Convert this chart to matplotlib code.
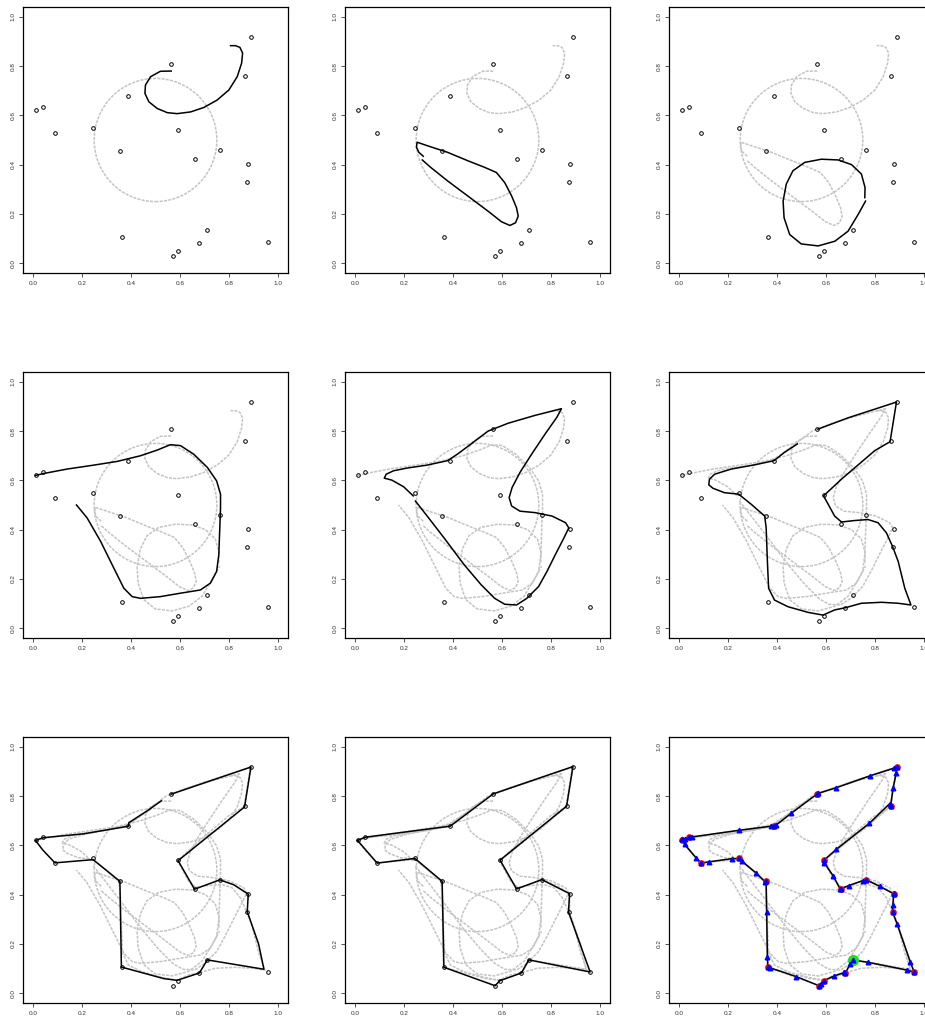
import numpy as np
import matplotlib
matplotlib.use("Agg")
import matplotlib.pyplot as plt
from matplotlib.patches import Circle

plt.rcParams['font.family'] = ['Liberation Sans', 'DejaVu Sans']

# cities
city_x = [0.011, 0.041, 0.091, 0.245, 0.389, 0.356, 0.363, 0.564, 0.592, 0.659,
          0.762, 0.572, 0.590, 0.679, 0.709, 0.889, 0.863, 0.875, 0.871, 0.959]
city_y = [0.620, 0.633, 0.528, 0.547, 0.678, 0.454, 0.105, 0.809, 0.540, 0.423,
          0.461, 0.030, 0.050, 0.082, 0.135, 0.920, 0.759, 0.404, 0.329, 0.086]
tour_order = [0, 1, 4, 7, 15, 16, 8, 9, 10, 17, 18, 19, 14, 13, 12, 11, 6, 5, 3, 2, 0]
start_city = 14

# initial ring
ring_center = (0.5, 0.5)
ring_radius = 0.25

# net shape after each stage
stage1 = [(0.564, 0.780), (0.520, 0.779), (0.480, 0.757), (0.459, 0.723), (0.457, 0.689),
          (0.473, 0.655), (0.507, 0.628), (0.548, 0.611), (0.588, 0.607), (0.643, 0.614),
          (0.697, 0.632), (0.751, 0.662), (0.799, 0.703), (0.833, 0.757), (0.851, 0.812),
          (0.855, 0.853), (0.844, 0.876), (0.826, 0.883), (0.806, 0.883)]
stage2 = [(0.279, 0.434), (0.261, 0.450), (0.251, 0.471), (0.254, 0.491), (0.295, 0.477),
          (0.378, 0.450), (0.460, 0.416), (0.529, 0.389), (0.577, 0.368), (0.611, 0.327),
          (0.639, 0.273), (0.659, 0.225), (0.666, 0.191), (0.655, 0.164), (0.632, 0.153),
          (0.598, 0.168), (0.543, 0.211), (0.460, 0.273), (0.378, 0.334), (0.309, 0.389),
          (0.275, 0.419)]
stage3 = [(0.758, 0.266), (0.759, 0.307), (0.744, 0.362), (0.704, 0.400), (0.649, 0.419),
          (0.581, 0.422), (0.513, 0.409), (0.465, 0.375), (0.438, 0.321), (0.425, 0.252),
          (0.429, 0.184), (0.452, 0.116), (0.499, 0.078), (0.568, 0.070), (0.636, 0.089),
          (0.690, 0.130), (0.731, 0.198), (0.761, 0.252)]
stage4 = [(0.011, 0.620), (0.045, 0.628), (0.140, 0.646), (0.249, 0.662), (0.344, 0.677),
          (0.439, 0.700), (0.507, 0.723), (0.561, 0.745), (0.602, 0.741), (0.656, 0.706),
          (0.711, 0.653), (0.749, 0.598), (0.765, 0.544), (0.765, 0.489), (0.762, 0.407),
          (0.758, 0.298), (0.749, 0.230), (0.724, 0.183), (0.683, 0.155), (0.602, 0.142),
          (0.520, 0.128), (0.439, 0.121), (0.405, 0.128), (0.371, 0.162), (0.330, 0.244),
          (0.276, 0.353), (0.221, 0.448), (0.178, 0.500)]
stage5 = [(0.238, 0.537), (0.199, 0.574), (0.151, 0.601), (0.120, 0.609), (0.128, 0.625),
          (0.158, 0.639), (0.213, 0.650), (0.295, 0.662), (0.378, 0.680), (0.419, 0.707),
          (0.474, 0.748), (0.543, 0.800), (0.625, 0.832), (0.735, 0.864), (0.842, 0.891),
          (0.824, 0.857), (0.776, 0.789), (0.721, 0.707), (0.673, 0.632), (0.641, 0.571),
          (0.629, 0.530), (0.639, 0.496), (0.673, 0.475), (0.735, 0.469), (0.804, 0.455),
          (0.859, 0.428), (0.872, 0.407), (0.852, 0.366), (0.817, 0.298), (0.783, 0.230),
          (0.749, 0.169), (0.701, 0.121), (0.659, 0.094), (0.611, 0.097), (0.570, 0.121),
          (0.515, 0.176), (0.446, 0.257), (0.364, 0.366), (0.295, 0.455), (0.247, 0.516)]
stage6 = [(0.483, 0.748), (0.431, 0.714), (0.388, 0.680), (0.309, 0.663), (0.214, 0.646),
          (0.146, 0.625), (0.125, 0.605), (0.122, 0.582), (0.139, 0.568), (0.186, 0.550),
          (0.244, 0.544), (0.295, 0.503), (0.350, 0.455), (0.356, 0.407), (0.361, 0.271),
          (0.366, 0.162), (0.390, 0.114), (0.445, 0.087), (0.527, 0.064), (0.588, 0.053),
          (0.635, 0.074), (0.679, 0.083), (0.744, 0.101), (0.826, 0.105), (0.894, 0.101),
          (0.946, 0.094), (0.921, 0.162), (0.894, 0.271), (0.871, 0.332), (0.846, 0.387),
          (0.812, 0.428), (0.771, 0.441), (0.717, 0.437), (0.663, 0.431), (0.635, 0.455),
          (0.590, 0.537), (0.663, 0.605), (0.799, 0.721), (0.861, 0.757), (0.887, 0.918),
          (0.826, 0.898), (0.690, 0.854), (0.567, 0.808)]
stage7 = [(0.524, 0.781), (0.466, 0.740), (0.391, 0.692), (0.391, 0.678), (0.208, 0.647),
          (0.042, 0.631), (0.011, 0.620), (0.039, 0.583), (0.090, 0.529), (0.245, 0.542),
          (0.262, 0.529), (0.355, 0.454), (0.361, 0.106), (0.534, 0.059), (0.588, 0.052),
          (0.679, 0.082), (0.711, 0.135), (0.942, 0.097), (0.920, 0.200), (0.874, 0.331),
          (0.878, 0.402), (0.819, 0.440), (0.762, 0.460), (0.659, 0.422), (0.592, 0.538),
          (0.863, 0.756), (0.889, 0.918), (0.564, 0.808)]
stage8 = [(city_x[i], city_y[i]) for i in tour_order]
# final net nodes (blue triangles)
net_nodes = [(0.012, 0.624), (0.024, 0.604), (0.072, 0.547), (0.091, 0.528), (0.121, 0.533),
             (0.216, 0.546), (0.245, 0.547), (0.257, 0.536), (0.316, 0.487), (0.351, 0.452),
             (0.356, 0.454), (0.358, 0.328), (0.361, 0.148), (0.363, 0.105), (0.371, 0.103),
             (0.479, 0.067), (0.572, 0.030), (0.580, 0.039), (0.590, 0.050), (0.631, 0.069),
             (0.675, 0.084), (0.679, 0.082), (0.698, 0.118), (0.709, 0.135), (0.773, 0.125),
             (0.928, 0.094), (0.959, 0.086), (0.944, 0.125), (0.890, 0.280), (0.871, 0.329),
             (0.872, 0.356), (0.876, 0.407), (0.875, 0.404), (0.818, 0.434), (0.762, 0.461),
             (0.750, 0.457), (0.693, 0.437), (0.659, 0.423), (0.657, 0.424), (0.629, 0.476),
             (0.593, 0.529), (0.592, 0.540), (0.642, 0.584), (0.777, 0.690), (0.860, 0.770),
             (0.863, 0.759), (0.873, 0.831), (0.886, 0.893), (0.889, 0.920), (0.879, 0.914),
             (0.781, 0.883), (0.641, 0.834), (0.567, 0.811), (0.564, 0.809), (0.459, 0.731),
             (0.396, 0.682), (0.389, 0.678), (0.377, 0.678), (0.244, 0.661), (0.052, 0.634),
             (0.041, 0.633), (0.027, 0.627), (0.012, 0.624)]

stages = [stage1, stage2, stage3, stage4, stage5, stage6, stage7, stage8, net_nodes]

GRAY = '#C4C4C4'
DASH = (0, (2.0, 0.8))
gray_kw = dict(color=GRAY, lw=1.1, ls=DASH, zorder=1)

fig = plt.figure(figsize=(9.25, 10.16), dpi=100)
W, H = 925, 1016
col_left = [23, 345, 669]
row_top = [7, 372, 737]
aw, ah = 265, 266

for k in range(9):
    r, c = divmod(k, 3)
    ax = fig.add_axes([col_left[c] / W, 1 - (row_top[r] + ah) / H, aw / W, ah / H])
    ax.set_xlim(-0.04, 1.04)
    ax.set_ylim(-0.04, 1.04)

    # earlier stages in gray
    ax.add_patch(Circle(ring_center, ring_radius, fill=False, ec=GRAY, lw=1.1,
                        ls=DASH, zorder=1))
    for s in stages[:k]:
        xs, ys = zip(*s)
        ax.plot(xs, ys, **gray_kw)

    xs, ys = zip(*stages[k])
    ax.plot(xs, ys, color='black', lw=1.1, zorder=2)

    ax.plot(city_x, city_y, 'o', mfc='none', mec='black', ms=2.6, mew=0.7, zorder=3)

    if k == 8:
        ax.plot(city_x, city_y, 'o', color='red', ms=3.8, zorder=4)
        ax.plot(city_x[start_city], city_y[start_city], 'o', color='#22dd22', ms=7, zorder=5)
        nx, ny = zip(*net_nodes)
        ax.plot(nx, ny, '^', color='blue', ms=3.3, zorder=6)

    ax.set_xticks([0, 0.2, 0.4, 0.6, 0.8, 1.0])
    ax.set_yticks([0, 0.2, 0.4, 0.6, 0.8, 1.0])
    ax.set_xticklabels(['0.0', '0.2', '0.4', '0.6', '0.8', '1.0'])
    ax.set_yticklabels(['0.0', '0.2', '0.4', '0.6', '0.8', '1.0'], rotation=90, va='center')
    ax.tick_params(direction='out', length=3, width=0.6, labelsize=4.6, pad=2.5,
                   colors='#333333')
    for sp in ax.spines.values():
        sp.set_linewidth(0.9)

fig.savefig('out.png', dpi=100)
